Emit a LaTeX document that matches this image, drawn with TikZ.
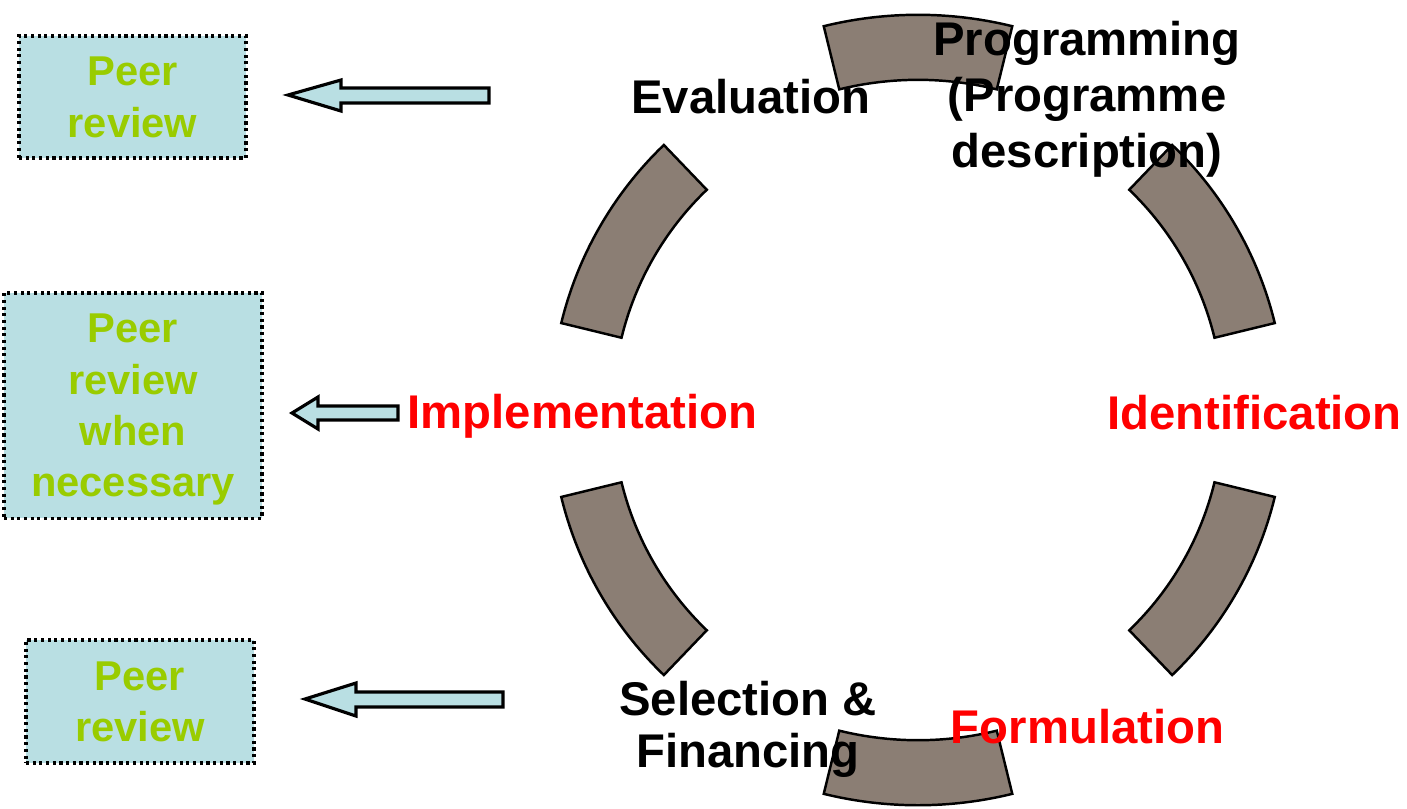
\documentclass[tikz,border=0pt]{standalone}
\usepackage{fontspec}
\setmainfont{Liberation Sans}
\definecolor{boxfill}{RGB}{185,223,227}
\definecolor{peergreen}{RGB}{153,204,0}
\definecolor{ringbrown}{RGB}{139,126,116}
\tikzset{ring_part/.style={draw=black, line width=0.7pt, fill=ringbrown},
	peer_arrow/.style={draw=black, line width=0.9pt, fill=boxfill}
}
\tikzstyle{peer_box} = [draw, densely dotted, line width=0.9pt, fill=boxfill, text=peergreen, align=center, inner sep=0pt, text depth=0pt, font=\fontsize{11.85}{14.6}\selectfont\bfseries]
\tikzstyle{black_stage} = [text=black, align=center, inner sep=0pt, text depth=0pt, font=\fontsize{13.45}{14.8}\selectfont\bfseries]
\tikzstyle{red_stage} = [text=red, inner sep=0pt, font=\fontsize{13.45}{14.8}\selectfont\bfseries]

\begin{document}
\begin{tikzpicture}[x=0.01cm, y=-0.01cm]
			\useasboundingbox (0,0) rectangle (1407,808);
			
			% draw ring
			\begin{scope}[shift={(918,410)}]
				\draw[ring_part] (76.2:3.95cm) arc (76.2:103.8:3.95cm) -- (103.8:3.30cm) arc (103.8:76.2:3.30cm) -- cycle;
				\draw[ring_part] (13.7:3.67cm) arc (13.7:46.2:3.67cm) -- (46.2:3.05cm) arc (46.2:13.7:3.05cm) -- cycle;
				\draw[ring_part] (133.8:3.67cm) arc (133.8:166.3:3.67cm) -- (166.3:3.05cm) arc (166.3:133.8:3.05cm) -- cycle;
				\draw[ring_part] (193.7:3.67cm) arc (193.7:226.2:3.67cm) -- (226.2:3.05cm) arc (226.2:193.7:3.05cm) -- cycle;
				\draw[ring_part] (256.2:3.95cm) arc (256.2:283.8:3.95cm) -- (283.8:3.30cm) arc (283.8:256.2:3.30cm) -- cycle;
				\draw[ring_part] (313.8:3.67cm) arc (313.8:346.3:3.67cm) -- (346.3:3.05cm) arc (346.3:313.8:3.05cm) -- cycle;
			\end{scope}
			
			% stages
			\node[black_stage, anchor=base] (evaluation) at (751,113) {Evaluation};
			\node[black_stage, font=\fontsize{13.45}{15.9}\selectfont\bfseries] (programming) at (1087,94) {Programming\\(Programme\hspace{0.5em}\\description)};
			\node[red_stage, anchor=base] (identification) at (1254.5,429) {Identification};
			\node[red_stage, anchor=base] (formulation) at (1087.5,743) {Formulation};
			\node[black_stage] (selection) at (748,724) {Selection \&\\Financing};
			\node[red_stage, anchor=base] (implementation) at (582.5,428) {Implementation};
			
			% peer review boxes
			\node[peer_box, minimum width=2.27cm, minimum height=1.22cm] (review1) at (132.5,97) {Peer\\review};
			\node[peer_box, minimum width=2.58cm, minimum height=2.25cm] (review2) at (133,405.5) {Peer\\review\\when\\necessary};
			\node[peer_box, minimum width=2.28cm, minimum height=1.23cm] (review3) at (140,701.5) {Peer\\review};
			
			% draw arrows
			\draw[peer_arrow] (288,95) -- (341,80) -- (341,88) -- (489,88) -- (489,103) -- (341,103) -- (341,111) -- cycle;
			\draw[peer_arrow] (292,413) -- (318,397) -- (318,406) -- (398,406) -- (398,420) -- (318,420) -- (318,429) -- cycle;
			\draw[peer_arrow] (305,699) -- (356,683) -- (356,692) -- (503,692) -- (503,707) -- (356,707) -- (356,716) -- cycle;
		\end{tikzpicture}
\end{document}
